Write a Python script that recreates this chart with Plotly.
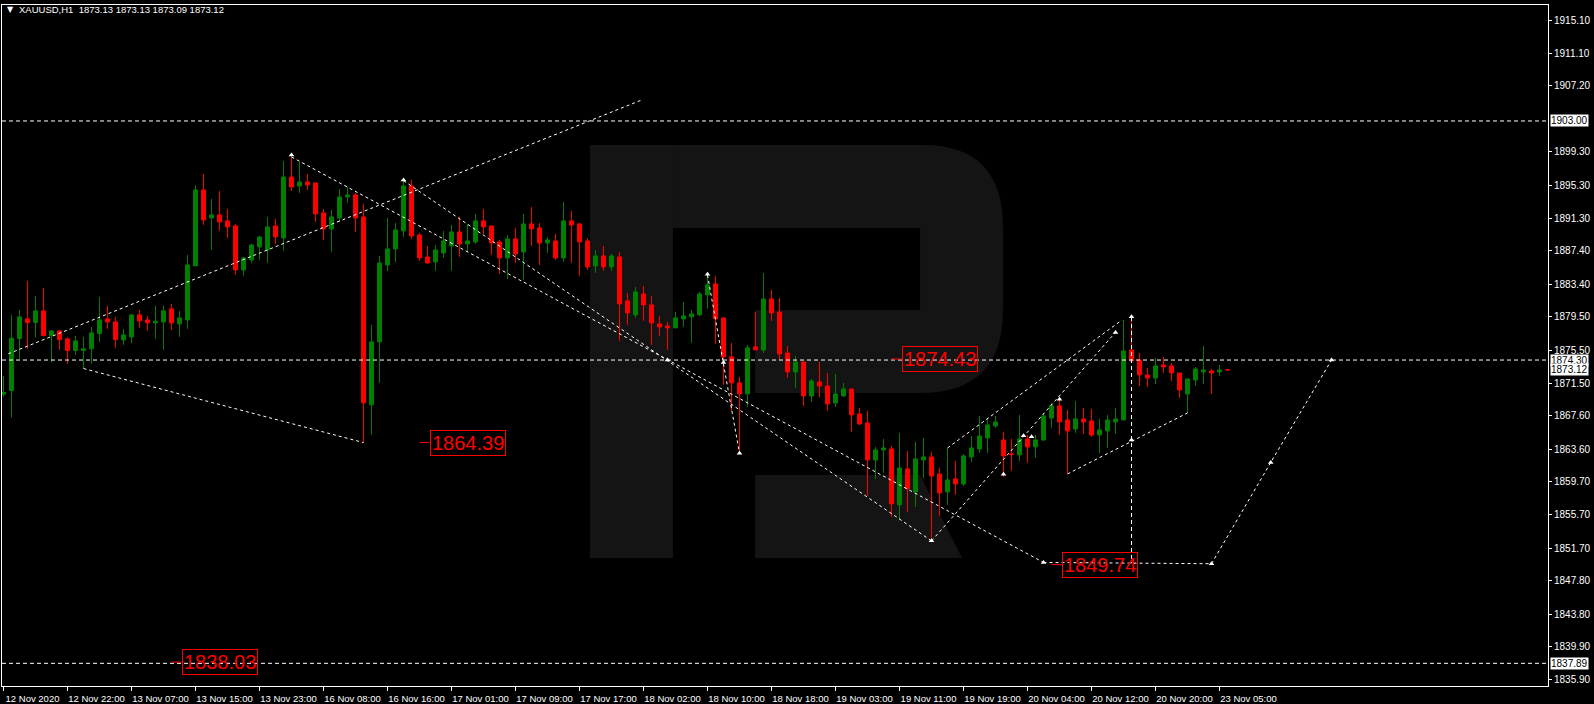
import plotly.graph_objects as go

# ---------------- data (XAUUSD, H1) ----------------
bar_open = [
    1870.20, 1870.64, 1876.88, 1879.24, 1878.80, 1880.20, 1877.24, 1877.80, 1876.84, 1875.44,
    1875.44, 1875.64, 1877.48, 1879.24, 1878.88, 1876.72, 1877.08, 1879.72, 1879.12, 1878.76,
    1878.88, 1880.44, 1878.64, 1879.12, 1885.60, 1894.72, 1891.36, 1891.72, 1891.00, 1890.40,
    1885.12, 1886.32, 1887.88, 1887.52, 1890.40, 1888.96, 1896.28, 1895.20, 1895.68, 1895.56,
    1891.96, 1890.04, 1891.36, 1893.88, 1894.12, 1891.48, 1868.92, 1876.48, 1885.72, 1887.64,
    1889.80, 1895.20, 1889.32, 1886.68, 1886.08, 1887.16, 1888.00, 1889.68, 1888.24, 1888.48,
    1891.00, 1890.40, 1888.48, 1886.56, 1888.84, 1887.28, 1890.64, 1890.16, 1888.36, 1888.60,
    1886.56, 1891.00, 1890.64, 1888.60, 1885.60, 1886.80, 1885.48, 1886.68, 1881.40, 1879.72,
    1882.24, 1880.92, 1878.64, 1878.40, 1878.16, 1879.24, 1879.48, 1879.72, 1882.12, 1883.44,
    1879.36, 1874.68, 1871.56, 1870.24, 1875.88, 1875.51, 1881.63, 1880.07, 1875.15, 1872.87,
    1874.07, 1869.99, 1871.67, 1871.19, 1869.15, 1869.99, 1870.83, 1867.83, 1866.75, 1862.31,
    1863.51, 1863.63, 1856.91, 1861.23, 1858.47, 1862.31, 1862.67, 1860.63, 1858.47, 1860.03,
    1859.43, 1862.67, 1863.63, 1864.95, 1866.39, 1864.71, 1863.03, 1862.91, 1864.83, 1863.87,
    1864.71, 1867.35, 1868.79, 1867.11, 1866.03, 1867.23, 1866.99, 1865.31, 1865.79, 1866.87,
    1867.11, 1875.51, 1874.31, 1872.51, 1872.15, 1873.71, 1873.59, 1872.75, 1870.23, 1871.91,
    1872.87, 1872.99, 1872.87, 1873.13,
]
bar_high = [
    1872.40, 1879.72, 1880.32, 1883.80, 1882.00, 1882.96, 1877.80, 1877.80, 1877.04, 1877.20,
    1877.08, 1878.28, 1881.88, 1880.80, 1879.48, 1878.04, 1879.84, 1880.32, 1879.60, 1880.80,
    1880.80, 1881.04, 1880.20, 1886.92, 1895.32, 1896.64, 1893.64, 1894.60, 1892.44, 1890.64,
    1886.68, 1888.24, 1889.20, 1891.48, 1891.24, 1898.20, 1898.68, 1898.08, 1896.64, 1895.56,
    1892.44, 1892.32, 1894.84, 1895.08, 1894.36, 1893.04, 1878.52, 1886.80, 1891.36, 1890.76,
    1896.04, 1895.92, 1889.56, 1888.00, 1888.12, 1889.80, 1890.52, 1891.48, 1890.64, 1891.84,
    1892.44, 1890.40, 1888.72, 1889.32, 1890.16, 1891.84, 1892.68, 1890.76, 1889.08, 1889.44,
    1893.28, 1892.20, 1890.76, 1888.96, 1887.52, 1888.00, 1887.04, 1887.28, 1882.36, 1883.08,
    1883.20, 1882.00, 1879.60, 1878.88, 1880.08, 1881.28, 1880.32, 1882.48, 1884.76, 1884.40,
    1879.36, 1876.36, 1872.28, 1876.12, 1880.08, 1884.75, 1882.71, 1881.75, 1875.99, 1874.79,
    1874.07, 1872.03, 1874.07, 1872.75, 1872.63, 1871.55, 1870.83, 1868.55, 1868.19, 1863.87,
    1864.83, 1863.99, 1865.55, 1863.39, 1864.47, 1864.95, 1863.27, 1861.35, 1863.75, 1862.19,
    1863.03, 1865.19, 1867.59, 1867.35, 1867.59, 1865.67, 1864.83, 1867.71, 1865.31, 1865.31,
    1867.95, 1869.15, 1869.63, 1868.31, 1869.39, 1868.55, 1868.43, 1867.23, 1867.71, 1868.55,
    1879.11, 1879.47, 1875.15, 1873.35, 1874.55, 1874.67, 1873.95, 1872.75, 1872.03, 1873.47,
    1875.99, 1873.23, 1873.71, 1873.13,
]
bar_low = [
    1869.92, 1867.40, 1874.44, 1875.64, 1877.00, 1877.12, 1874.04, 1875.52, 1873.88, 1874.92,
    1873.28, 1873.88, 1876.48, 1878.04, 1875.76, 1876.12, 1876.36, 1878.16, 1877.80, 1876.84,
    1875.52, 1877.92, 1877.08, 1878.04, 1885.60, 1890.52, 1887.52, 1889.80, 1888.96, 1884.52,
    1884.40, 1885.96, 1886.32, 1885.96, 1888.24, 1887.40, 1894.60, 1894.36, 1894.72, 1890.88,
    1888.72, 1887.28, 1890.88, 1893.16, 1889.68, 1864.39, 1865.32, 1871.56, 1885.00, 1886.08,
    1889.08, 1888.84, 1886.20, 1885.84, 1885.00, 1886.56, 1885.00, 1886.68, 1887.28, 1888.24,
    1889.44, 1886.92, 1884.64, 1884.04, 1885.96, 1883.92, 1888.00, 1885.72, 1887.16, 1886.32,
    1886.08, 1885.96, 1884.40, 1885.12, 1884.76, 1885.00, 1885.00, 1876.60, 1878.52, 1879.36,
    1879.00, 1876.12, 1877.20, 1875.52, 1878.16, 1878.28, 1876.36, 1879.60, 1880.44, 1876.24,
    1871.32, 1868.20, 1863.04, 1868.68, 1875.52, 1875.15, 1878.99, 1874.31, 1872.15, 1870.95,
    1868.79, 1869.27, 1869.87, 1868.19, 1868.67, 1869.87, 1865.67, 1866.51, 1857.99, 1860.03,
    1860.75, 1855.47, 1855.11, 1856.07, 1856.67, 1860.15, 1852.59, 1855.59, 1856.91, 1858.11,
    1859.19, 1862.07, 1863.15, 1863.15, 1866.15, 1860.27, 1860.99, 1862.19, 1861.95, 1862.55,
    1864.59, 1866.15, 1865.31, 1860.63, 1865.55, 1865.43, 1865.07, 1863.15, 1863.75, 1865.43,
    1867.11, 1874.19, 1871.19, 1871.07, 1871.43, 1872.75, 1871.79, 1869.75, 1867.95, 1871.19,
    1871.43, 1870.23, 1872.39, 1873.09,
]
bar_close = [
    1870.40, 1876.92, 1879.48, 1878.80, 1880.20, 1877.24, 1877.80, 1876.76, 1875.44, 1876.60,
    1875.64, 1877.56, 1879.12, 1878.88, 1876.76, 1877.32, 1879.72, 1879.00, 1878.76, 1878.96,
    1880.20, 1878.76, 1879.36, 1885.72, 1894.72, 1891.12, 1891.72, 1890.88, 1890.28, 1885.12,
    1886.56, 1888.12, 1889.08, 1890.28, 1889.08, 1896.28, 1895.08, 1895.68, 1895.32, 1891.84,
    1890.04, 1891.48, 1893.88, 1894.12, 1891.36, 1869.16, 1876.48, 1885.96, 1887.64, 1889.92,
    1895.20, 1889.20, 1886.56, 1885.96, 1887.52, 1888.60, 1889.68, 1888.24, 1888.60, 1891.00,
    1890.28, 1888.36, 1886.56, 1888.84, 1887.04, 1890.64, 1890.04, 1888.36, 1888.72, 1886.56,
    1891.00, 1890.52, 1888.48, 1885.48, 1886.80, 1885.48, 1886.80, 1881.04, 1879.96, 1882.48,
    1880.92, 1878.76, 1878.28, 1878.16, 1879.36, 1879.60, 1879.84, 1882.24, 1883.32, 1879.24,
    1874.68, 1871.56, 1870.24, 1875.76, 1875.52, 1881.63, 1879.95, 1875.03, 1872.87, 1874.07,
    1869.99, 1871.79, 1871.19, 1869.03, 1870.23, 1870.83, 1867.71, 1866.63, 1862.31, 1863.51,
    1863.75, 1857.03, 1861.35, 1858.83, 1862.43, 1862.67, 1860.39, 1858.35, 1859.91, 1859.43,
    1862.79, 1863.75, 1865.19, 1866.51, 1866.87, 1862.79, 1862.97, 1864.83, 1863.87, 1864.71,
    1867.59, 1868.79, 1866.87, 1865.79, 1867.23, 1866.87, 1865.31, 1865.91, 1867.11, 1867.23,
    1875.39, 1874.19, 1872.51, 1872.15, 1873.59, 1873.47, 1872.75, 1870.71, 1872.03, 1873.23,
    1873.11, 1872.75, 1873.11, 1873.12,
]

x_tick_labels = [
    "12 Nov 2020", "12 Nov 22:00", "13 Nov 07:00", "13 Nov 15:00", "13 Nov 23:00",
    "16 Nov 08:00", "16 Nov 16:00", "17 Nov 01:00", "17 Nov 09:00", "17 Nov 17:00",
    "18 Nov 02:00", "18 Nov 10:00", "18 Nov 18:00", "19 Nov 03:00", "19 Nov 11:00",
    "19 Nov 19:00", "20 Nov 04:00", "20 Nov 12:00", "20 Nov 20:00", "23 Nov 05:00",
]
bars_per_label = 8

y_tick_labels = [
    "1915.10", "1911.10", "1907.20", "1899.30", "1895.30", "1891.30", "1887.40",
    "1883.40", "1879.50", "1875.50", "1871.50", "1867.60", "1863.60", "1859.70",
    "1855.70", "1851.70", "1847.80", "1843.80", "1839.90", "1835.90",
]

# horizontal levels (dashed) and their price boxes on the axis
level_prices = [1903.00, 1874.30, 1837.89]
axis_box_prices = [1903.00, 1874.30, 1873.12, 1837.89]

# red price labels: anchor bar, price
label_bars = [52, 111, 131, 21]
label_prices = [1864.39, 1874.43, 1849.74, 1838.03]

# analysis polylines (bar index, price)
trend_lines = [
    [(0.6, 1875.05), (79.9, 1905.57)],
    [(10, 1873.28), (45, 1864.39)],
    [(36, 1898.68), (130, 1850.00)],
    [(50, 1895.84), (116, 1852.59)],
    [(88, 1884.50), (90, 1873.90), (92, 1863.10)],
    [(116, 1852.59), (139, 1877.63)],
    [(118, 1863.75), (139.8, 1879.10)],
    [(133, 1860.63), (148, 1867.95)],
    [(130, 1850.00), (151, 1849.85), (158.4, 1862.00), (166, 1874.30)],
]
vertical_line = [(141, 1879.47), (141, 1849.90)]

marker_bars = [36, 50, 83, 88, 90, 92, 116, 125, 127.5, 128.5, 132, 139, 141, 141, 130, 151, 158.4, 166]
marker_prices = [1898.9, 1895.9, 1874.3, 1884.6, 1874.0, 1863.1, 1852.6, 1860.6, 1865.2, 1865.1,
                 1869.6, 1877.6, 1879.5, 1864.7, 1850.0, 1849.85, 1862.0, 1874.3]

header_text = "XAUUSD,H1\u00a0\u00a01873.13 1873.13 1873.09 1873.12"

# ---------------- figure ----------------
bar_index = list(range(len(bar_open)))
GREEN = "#008000"
RED = "#ff0000"
WHITE = "#ffffff"

fig = go.Figure()

fig.add_trace(go.Candlestick(
    x=bar_index, open=bar_open, high=bar_high, low=bar_low, close=bar_close,
    increasing=dict(line=dict(color=GREEN, width=1), fillcolor=GREEN),
    decreasing=dict(line=dict(color=RED, width=1), fillcolor=RED),
    whiskerwidth=0, hoverinfo="skip", showlegend=False,
))

lx, ly = [], []
for seg in trend_lines:
    for b, p in seg:
        lx.append(b)
        ly.append(p)
    lx.append(None)
    ly.append(None)
fig.add_trace(go.Scatter(x=lx, y=ly, mode="lines", line=dict(color=WHITE, width=1, dash="3px,3px"),
                         hoverinfo="skip", showlegend=False))
fig.add_trace(go.Scatter(x=[p[0] for p in vertical_line], y=[p[1] for p in vertical_line], mode="lines",
                         line=dict(color=WHITE, width=1, dash="4px,3px"), hoverinfo="skip", showlegend=False))
fig.add_trace(go.Scatter(x=marker_bars, y=marker_prices, mode="markers",
                         marker=dict(symbol="triangle-up", size=5, color=WHITE, line=dict(width=0)),
                         hoverinfo="skip", showlegend=False))

shapes = []
# watermark "R" (paper coordinates)
wm = "#141414"
shapes.append(dict(type="rect", xref="paper", yref="paper", x0=0.3803, x1=0.4340, y0=0.1880, y1=0.7944,
                   fillcolor=wm, line=dict(width=0), layer="below"))
shapes.append(dict(type="path", xref="paper", yref="paper", layer="below", fillcolor=wm, line=dict(width=0),
                   path="M 0.4340,0.7944 L 0.5960,0.7944 Q 0.6475,0.7944 0.6475,0.6725 L 0.6475,0.5521 "
                        "Q 0.6475,0.4302 0.5938,0.4302 L 0.4871,0.4302 L 0.4871,0.5521 L 0.5938,0.5521 "
                        "L 0.5938,0.6725 L 0.4340,0.6725 Z"))
shapes.append(dict(type="path", xref="paper", yref="paper", layer="below", fillcolor=wm, line=dict(width=0),
                   path="M 0.4871,0.3098 L 0.5938,0.3098 L 0.6210,0.1880 L 0.4871,0.1880 Z"))

for p in level_prices:
    shapes.append(dict(type="line", xref="paper", yref="y", x0=0, x1=1, y0=p, y1=p,
                       line=dict(color=WHITE, width=1, dash="4px,3px")))
for b, p in zip(label_bars, label_prices):
    shapes.append(dict(type="line", xref="x", yref="y", x0=b, x1=b + 1.25, y0=p, y1=p,
                       line=dict(color=RED, width=1)))

annotations = []
for b, p in zip(label_bars, label_prices):
    annotations.append(dict(x=b, y=p, xref="x", yref="y", text=f"{p:.2f}", showarrow=False,
                            xanchor="left", yanchor="middle", xshift=10,
                            font=dict(family="Liberation Sans", size=20, color=RED),
                            bordercolor=RED, borderwidth=1, borderpad=1))
for p in axis_box_prices:
    annotations.append(dict(x=1, y=p, xref="paper", yref="y", text=f"{p:.2f}", showarrow=False,
                            xanchor="left", yanchor="middle", xshift=2,
                            font=dict(family="Liberation Sans", size=10, color="#000000"),
                            bgcolor=WHITE, borderpad=0))
annotations.append(dict(x=0, y=0.9927, xref="paper", yref="paper", text="\u25bc", showarrow=False,
                        xanchor="left", yanchor="middle", xshift=3,
                        font=dict(family="DejaVu Sans", size=8, color=WHITE)))
annotations.append(dict(x=0, y=0.9927, xref="paper", yref="paper", text=header_text, showarrow=False,
                        xanchor="left", yanchor="middle", xshift=15,
                        font=dict(family="Liberation Sans", size=9.5, color=WHITE)))

fig.update_layout(
    width=1594, height=704,
    margin=dict(l=2, r=46, t=5, b=18, autoexpand=False),
    paper_bgcolor="#000000", plot_bgcolor="#000000",
    shapes=shapes, annotations=annotations,
    showlegend=False,
    font=dict(family="Liberation Sans", color=WHITE),
)
fig.update_xaxes(
    range=[-0.19, 193.06], rangeslider=dict(visible=False),
    showgrid=False, zeroline=False,
    showline=True, mirror=True, linecolor=WHITE, linewidth=1,
    tickmode="array", tickvals=[k * bars_per_label for k in range(len(x_tick_labels))], ticktext=x_tick_labels,
    ticks="outside", ticklen=4, tickcolor=WHITE, tickfont=dict(size=9.5, color=WHITE),
    ticklabelshift=29, ticklabelstandoff=0,
)
fig.update_yaxes(
    range=[1835.17, 1916.92], side="right",
    showgrid=False, zeroline=False,
    showline=True, mirror=True, linecolor=WHITE, linewidth=1,
    tickmode="array", tickvals=[float(t) for t in y_tick_labels], ticktext=y_tick_labels,
    ticks="outside", ticklen=3, tickcolor=WHITE, tickfont=dict(size=10, color=WHITE),
)

fig.write_html(
    "out.html",
    config={"displayModeBar": False},
    post_script="document.body.style.margin='0';document.body.style.padding='0';"
                "document.body.style.background='#000';document.body.style.overflow='hidden';",
)
